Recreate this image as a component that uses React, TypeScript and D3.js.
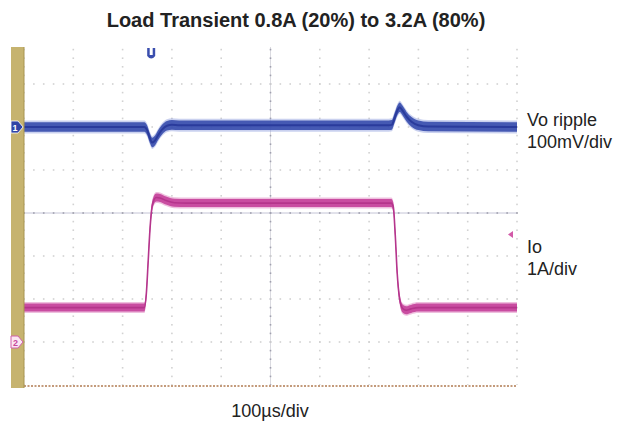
import React from 'react'
import * as d3 from 'd3'

// time axis: 10 div x 100us
const timeDomain = [0, 1000]
const divRange = [-4, 4]

// Vo ripple (mV, around channel offset)
const voTime = [0, 244, 250, 255, 260, 266, 272, 280, 290, 300, 315, 340, 740, 746, 752, 758, 762, 768, 776, 786, 800, 820, 1000]
const voRipple = [0, 0, -8, -25, -36, -31, -19, -6, 3, 5, 4, 4, 4, 5, 22, 40, 46, 38, 24, 12, 4, 1, 0]

// Io (A)
const ioTime = [0, 244, 248, 252, 256, 261, 268, 276, 288, 305, 330, 745, 749, 753, 757, 762, 768, 775, 785, 800, 1000]
const ioCurrent = [0.8, 0.8, 1.1, 1.9, 2.7, 3.22, 3.36, 3.35, 3.29, 3.24, 3.23, 3.23, 3.15, 2.5, 1.6, 1.0, 0.78, 0.74, 0.77, 0.8, 0.8]

const voOffsetDiv = 2
const voScale = 100 // mV/div
const ioOffsetDiv = -3
const ioScale = 1 // A/div
const triggerTime = 258
const triggerLevel = 2.5

const title = 'Load Transient 0.8A (20%) to 3.2A (80%)'
const xLabel = '100\u00b5s/div'
const ch1Labels = ['Vo ripple', '100mV/div']
const ch2Labels = ['Io', '1A/div']

const W = 626
const H = 427
const plot = { left: 24, right: 517, top: 47, bottom: 385 }

export default function App() {
  const x = d3.scaleLinear().domain(timeDomain).range([plot.left, plot.right])
  const y = d3.scaleLinear().domain(divRange).range([385, 41])

  const vo = voTime.map((t, i) => ({ t, d: voOffsetDiv + voRipple[i] / voScale }))
  const io = ioTime.map((t, i) => ({ t, d: ioOffsetDiv + ioCurrent[i] / ioScale }))

  const band = (h: number) =>
    d3
      .area<{ t: number; d: number }>()
      .x((p) => x(p.t))
      .y0((p) => y(p.d) + h)
      .y1((p) => y(p.d) - h)
      .curve(d3.curveMonotoneX)
  const core = d3
    .line<{ t: number; d: number }>()
    .x((p) => x(p.t))
    .y((p) => y(p.d))
    .curve(d3.curveMonotoneX)

  // grid dots
  const xDivs = d3.range(0, 1001, 100)
  const yDivs = d3.range(-3, 4, 1)
  const dots: { cx: number; cy: number; c: boolean }[] = []
  xDivs.forEach((t) => {
    d3.range(-4, 4.01, 0.2).forEach((v) => {
      const cy = y(v)
      if (cy >= plot.top && cy <= plot.bottom) dots.push({ cx: x(t), cy, c: t === 500 })
    })
  })
  yDivs.forEach((v) => {
    d3.range(0, 1001, 20).forEach((t) => {
      dots.push({ cx: x(t), cy: y(v), c: v === 0 })
    })
  })

  const y1 = y(voOffsetDiv)
  const y2 = y(ioOffsetDiv)
  const yTrig = y(ioOffsetDiv + triggerLevel / ioScale)
  const xTrig = x(triggerTime)

  return (
    <div style={{ position: 'absolute', left: 0, top: 0 }}>
      <svg width={W} height={H} style={{ display: 'block', fontFamily: 'Arial, "Liberation Sans", sans-serif' }}>
        <rect width={W} height={H} fill="#fff" />
        <text x={296} y={27} textAnchor="middle" fontWeight="bold" fontSize={20} fill="#222">
          {title}
        </text>

        <defs>
          <clipPath id="plotClip">
            <rect x={plot.left} y={plot.top} width={plot.right - plot.left + 1} height={plot.bottom - plot.top} />
          </clipPath>
        </defs>

        <g clipPath="url(#plotClip)">
          <line x1={plot.left} x2={plot.right} y1={y(0)} y2={y(0)} stroke="#c4c4d6" strokeWidth={1} />
          <line x1={x(500)} x2={x(500)} y1={plot.top} y2={plot.bottom} stroke="#dadae0" strokeWidth={1} />
          {dots.map((p, i) => (
            <rect
              key={i}
              x={p.cx - 0.8}
              y={p.cy - 0.8}
              width={1.6}
              height={1.6}
              fill={p.c ? '#a0a0ae' : '#d2d2d2'}
            />
          ))}

          <path d={band(6.5)(vo) || ''} fill="#8a98dc" opacity={0.45} />
          <path d={band(4.8)(vo) || ''} fill="#3a4eae" opacity={0.92} />
          <path d={core(vo) || ''} fill="none" stroke="#2a3b9c" strokeWidth={2} />

          <path d={band(5.5)(io) || ''} fill="#e59ccc" opacity={0.65} />
          <path d={band(4)(io) || ''} fill="#c4409a" opacity={0.9} />
          <path d={core(io) || ''} fill="none" stroke="#b5358c" strokeWidth={1.6} />
        </g>

        <line x1={plot.left} x2={plot.right} y1={386} y2={386} stroke="#b07a50" strokeWidth={1.6} strokeDasharray="2 1.5" />
        <rect x={11} y={plot.top} width={13} height={341} fill="#c6b36f" />
        <line x1={24} x2={24} y1={plot.top} y2={388} stroke="#a89450" strokeWidth={1} />

        {/* ch1 marker */}
        <path
          d={`M11,${y1 - 6} L18,${y1 - 6} L23,${y1} L18,${y1 + 6} L11,${y1 + 6} Z`}
          fill="#2f44a6"
          stroke="#fff"
          strokeWidth={0.8}
        />
        <text x={15} y={y1 + 3.5} textAnchor="middle" fontSize={9} fontWeight="bold" fill="#fff">
          1
        </text>

        {/* ch2 marker */}
        <path
          d={`M11,${y2 - 6} L18,${y2 - 6} L23,${y2} L18,${y2 + 6} L11,${y2 + 6} Z`}
          fill="#fbe6f3"
          stroke="#d060aa"
          strokeWidth={1}
        />
        <text x={15.5} y={y2 + 3.5} textAnchor="middle" fontSize={9} fontWeight="bold" fill="#c8489e">
          2
        </text>

        {/* trigger position */}
        <path
          d={`M${xTrig - 4},48 L${xTrig - 4},56 Q${xTrig},61 ${xTrig + 4},56 L${xTrig + 4},48 L${xTrig + 1.5},48 L${xTrig + 1.5},55 L${xTrig - 1.5},55 L${xTrig - 1.5},48 Z`}
          fill="#3a4eae"
        />

        {/* trigger level */}
        <path d={`M${plot.right - 9},${yTrig} L${plot.right - 4},${yTrig - 3.5} L${plot.right - 4},${yTrig + 3.5} Z`} fill="#d25aa8" />

        <g fontSize={18} fill="#222">
          <text x={527} y={126}>{ch1Labels[0]}</text>
          <text x={527} y={148}>{ch1Labels[1]}</text>
          <text x={527} y={253}>{ch2Labels[0]}</text>
          <text x={527} y={275}>{ch2Labels[1]}</text>
          <text x={270} y={417} textAnchor="middle">{xLabel}</text>
        </g>
      </svg>
    </div>
  )
}
